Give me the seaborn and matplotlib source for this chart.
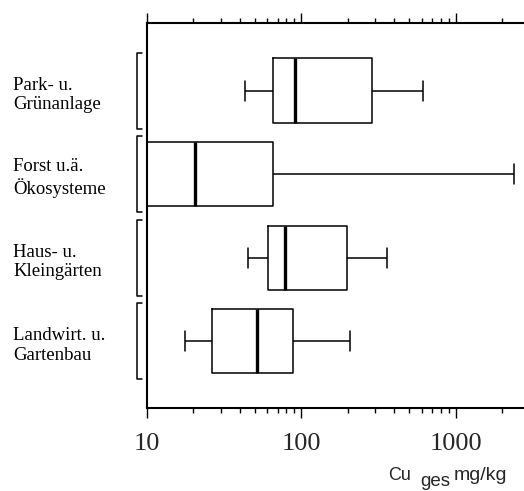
import numpy as np
import pandas as pd
import matplotlib
matplotlib.use("Agg")
import matplotlib.pyplot as plt
import matplotlib.transforms as mtransforms
from matplotlib.ticker import LogLocator, NullFormatter
import seaborn as sns

# Land-use categories (top to bottom)
categories = [
    "Park- u.\nGrünanlage",
    "Forst u.ä.\nÖkosysteme",
    "Haus- u.\nKleingärten",
    "Landwirt. u.\nGartenbau",
]

# Five-number summaries of total copper content, mg/kg
whisker_low = [43, 10, 45, 17.5]
quartile_1 = [65, 10, 61, 26.5]
median = [91, 20.4, 78, 51.5]
quartile_3 = [287, 65, 196, 88]
whisker_high = [610, 2370, 356, 206]

x_ticks = [10, 100, 1000]
x_ticklabels = ["10", "100", "1000"]

rows = []
for cat, lo, q1, md, q3, hi in zip(categories, whisker_low, quartile_1,
                                   median, quartile_3, whisker_high):
    for v in (lo, q1, md, q3, hi):
        rows.append({"Kategorie": cat, "Cu": v})
df = pd.DataFrame(rows)

sns.set_theme(style="white")
plt.rcParams["font.family"] = ["Liberation Serif", "DejaVu Serif"]

W, H = 524, 491
fig = plt.figure(figsize=(W / 100, H / 100), dpi=100)
ax = fig.add_axes([147 / W, 83 / H, 377 / W, 385 / H])
ax.set_xscale("log")

sns.boxplot(
    data=df, x="Cu", y="Kategorie", order=categories, orient="y",
    whis=(0, 100), width=0.77, fill=False, color="black", linewidth=1.1,
    medianprops=dict(linewidth=2.4), capwidths=0.24, ax=ax,
)

ax.set_xlim(10, 2760)
ax.set_ylim(3.8, -0.81)

for side in ("left", "top", "bottom"):
    ax.spines[side].set_visible(True)
    ax.spines[side].set_linewidth(1.5)
    ax.spines[side].set_color("black")
ax.spines["right"].set_visible(False)

ax.set_xticks(x_ticks)
ax.set_xticklabels(x_ticklabels, fontsize=19)
ax.xaxis.set_minor_locator(LogLocator(base=10, subs=np.arange(2, 10)))
ax.xaxis.set_minor_formatter(NullFormatter())
ax.tick_params(axis="x", which="both", top=True, bottom=True, labeltop=False,
               direction="out", color="black", width=1.0)
ax.tick_params(axis="x", which="major", length=7, pad=11)
ax.tick_params(axis="x", which="minor", length=3.5)
ax.set_yticks([])
ax.set_xlabel("")
ax.set_ylabel("")

# Category labels and brackets on the left
lab_tr = mtransforms.blended_transform_factory(fig.transFigure, ax.transData)
br_tr = mtransforms.blended_transform_factory(ax.transAxes, ax.transData)
xb = (137 - 147) / 377
xt = (141.5 - 147) / 377
for i, cat in enumerate(categories):
    ax.text(13 / W, i + 0.05, cat, transform=lab_tr, ha="left", va="center",
            fontsize=13.5, linespacing=1.2, color="black")
    ax.plot([xt, xb, xb, xt], [i - 0.455, i - 0.455, i + 0.455, i + 0.455],
            transform=br_tr, clip_on=False, color="black", lw=1.1)

# Axis title with subscript
sans = ["Liberation Sans", "DejaVu Sans"]
fig.text(388 / W, 1 - 480 / H, "Cu", family=sans, fontsize=13, va="baseline")
fig.text(420 / W, 1 - 486 / H, "ges", family=sans, fontsize=13.5, va="baseline")
fig.text(454 / W, 1 - 480 / H, "mg/kg", family=sans, fontsize=14, va="baseline")

fig.savefig("out.png", dpi=100, facecolor="white")
